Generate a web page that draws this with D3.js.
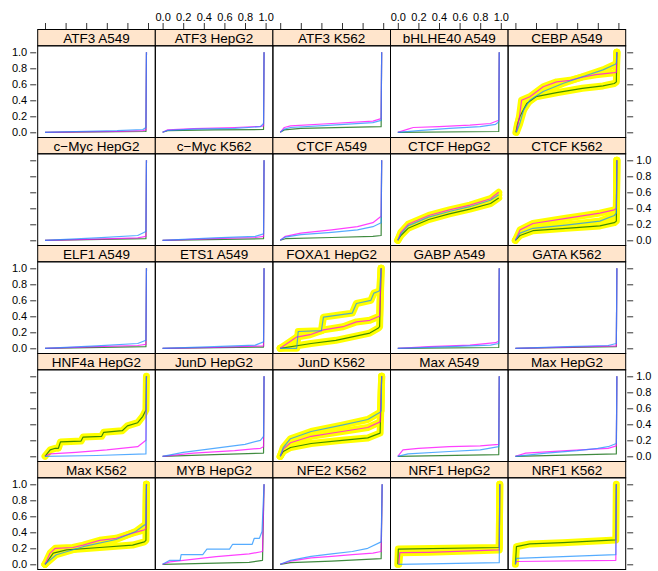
<!DOCTYPE html>
<html><head><meta charset="utf-8">
<script src="https://cdn.jsdelivr.net/npm/d3@7"></script>
<style>body{margin:0;background:#fff}svg{display:block}</style>
</head><body>
<script>
const panelNames = ["ATF3 A549","ATF3 HepG2","ATF3 K562","bHLHE40 A549","CEBP A549",
"c\u2212Myc HepG2","c\u2212Myc K562","CTCF A549","CTCF HepG2","CTCF K562",
"ELF1 A549","ETS1 A549","FOXA1 HepG2","GABP A549","GATA K562",
"HNF4a HepG2","JunD HepG2","JunD K562","Max A549","Max HepG2",
"Max K562","MYB HepG2","NFE2 K562","NRF1 HepG2","NRF1 K562"];

const ticks = [0,0.2,0.4,0.6,0.8,1.0];

// highlighted series per panel: [magenta, blue, green]
const highlighted = [
[0,0,0],[0,0,0],[0,0,0],[0,0,0],[1,1,1],
[0,0,0],[0,0,0],[0,0,0],[1,1,1],[1,1,1],
[0,0,0],[0,0,0],[1,1,1],[0,0,0],[0,0,0],
[0,0,1],[0,0,0],[1,1,1],[0,0,0],[0,0,0],
[1,1,1],[0,0,0],[0,0,0],[1,0,1],[0,0,1]];

const magentaSeries = [
[[0,0],[0.3,0.005],[0.7,0.01],[0.95,0.02],[0.98,0.03],[0.985,1]],
[[0,0],[0.05,0.03],[0.3,0.045],[0.7,0.06],[0.95,0.075],[0.98,0.08],[0.985,1]],
[[0,0],[0.04,0.06],[0.1,0.08],[0.5,0.11],[0.9,0.14],[0.98,0.17],[0.985,1]],
[[0,0],[0.1,0.04],[0.15,0.06],[0.4,0.07],[0.7,0.09],[0.9,0.11],[0.98,0.15],[0.985,1]],
[[0.01,0.01],[0.04,0.2],[0.06,0.40],[0.14,0.445],[0.27,0.57],[0.40,0.63],[0.53,0.65],[0.65,0.69],[0.78,0.72],[0.96,0.745],[0.98,0.75],[0.985,1]],
[[0,0],[0.5,0.015],[0.9,0.03],[0.98,0.05],[0.985,1]],
[[0,0],[0.5,0.02],[0.9,0.035],[0.98,0.05],[0.985,1]],
[[0,0],[0.05,0.05],[0.2,0.09],[0.5,0.13],[0.75,0.17],[0.9,0.22],[0.98,0.3],[0.985,1]],
[[0,0],[0.03,0.1],[0.1,0.2],[0.3,0.31],[0.5,0.38],[0.7,0.44],[0.9,0.52],[0.98,0.6]],
[[0,0],[0.045,0.13],[0.17,0.21],[0.49,0.275],[0.82,0.34],[0.96,0.38],[0.98,0.4],[0.985,1]],
[[0,0],[0.5,0.02],[0.9,0.035],[0.98,0.05],[0.985,1]],
[[0,0],[0.5,0.01],[0.98,0.03],[0.985,1]],
[[0,0],[0.16,0.14],[0.29,0.17],[0.42,0.23],[0.61,0.27],[0.74,0.33],[0.87,0.35],[0.95,0.395],[0.965,0.4],[0.98,1]],
[[0,0],[0.3,0.02],[0.7,0.04],[0.95,0.07],[0.98,0.09],[0.985,1]],
[[0,0],[0.5,0.015],[0.98,0.03],[0.985,1]],
[[0,0],[0.05,0.03],[0.3,0.05],[0.6,0.08],[0.9,0.12],[0.98,0.2],[0.985,1]],
[[0,0],[0.3,0.04],[0.7,0.07],[0.95,0.1],[0.98,0.12],[0.985,1]],
[[0,0],[0.03,0.09],[0.1,0.17],[0.3,0.25],[0.6,0.31],[0.85,0.36],[0.97,0.43],[0.985,1]],
[[0,0],[0.05,0.08],[0.2,0.1],[0.5,0.12],[0.8,0.13],[0.98,0.15],[0.985,1]],
[[0,0],[0.1,0.04],[0.5,0.07],[0.9,0.1],[0.98,0.13],[0.985,1]],
[[0,0],[0.05,0.14],[0.1,0.2],[0.27,0.21],[0.37,0.24],[0.53,0.30],[0.69,0.325],[0.85,0.39],[0.965,0.43],[0.98,0.45],[0.985,1]],
[[0,0],[0.07,0.03],[0.2,0.05],[0.52,0.095],[0.84,0.13],[0.97,0.16],[0.985,1]],
[[0,0],[0.1,0.04],[0.3,0.08],[0.5,0.1],[0.7,0.12],[0.9,0.14],[0.98,0.16],[0.99,1]],
[[0.01,0],[0.02,0.145],[0.3,0.15],[0.985,0.18],[0.99,1]],
[[0,0],[0.01,0.035],[0.975,0.05],[0.98,1]]
];

const blueSeries = [
[[0,0],[0.3,0.01],[0.7,0.02],[0.95,0.035],[0.98,0.06],[0.985,1]],
[[0,0],[0.05,0.025],[0.3,0.04],[0.7,0.05],[0.95,0.07],[0.98,0.11],[0.985,1]],
[[0,0],[0.04,0.04],[0.1,0.06],[0.5,0.09],[0.9,0.12],[0.98,0.15],[0.985,1]],
[[0,0],[0.2,0.02],[0.5,0.05],[0.8,0.07],[0.95,0.1],[0.98,0.13],[0.985,1]],
[[0.01,0],[0.04,0.1],[0.08,0.28],[0.14,0.40],[0.27,0.51],[0.46,0.61],[0.65,0.695],[0.85,0.78],[0.97,0.85],[0.98,0.87],[0.985,1]],
[[0,0],[0.5,0.03],[0.9,0.06],[0.98,0.11],[0.985,1]],
[[0,0],[0.5,0.03],[0.9,0.05],[0.98,0.08],[0.985,1]],
[[0,0],[0.05,0.04],[0.2,0.07],[0.5,0.1],[0.75,0.13],[0.9,0.17],[0.98,0.22],[0.985,1]],
[[0,0],[0.03,0.08],[0.1,0.18],[0.3,0.29],[0.5,0.36],[0.7,0.42],[0.9,0.5],[0.98,0.57]],
[[0,0],[0.045,0.09],[0.17,0.15],[0.49,0.19],[0.82,0.24],[0.96,0.31],[0.98,0.34],[0.985,1]],
[[0,0],[0.5,0.03],[0.9,0.06],[0.98,0.1],[0.985,1]],
[[0,0],[0.5,0.02],[0.9,0.04],[0.98,0.08],[0.985,1]],
[[0,0],[0.16,0],[0.175,0.21],[0.4,0.22],[0.42,0.39],[0.70,0.44],[0.74,0.56],[0.88,0.60],[0.91,0.69],[0.95,0.71],[0.965,0.72],[0.98,1]],
[[0,0],[0.5,0.02],[0.9,0.04],[0.98,0.06],[0.985,1]],
[[0,0],[0.5,0.02],[0.9,0.035],[0.98,0.06],[0.985,1]],
[[0,0],[0.5,0.01],[0.98,0.03],[0.985,1]],
[[0,0],[0.2,0.05],[0.5,0.1],[0.8,0.15],[0.95,0.2],[0.98,0.25],[0.985,1]],
[[0,0],[0.03,0.11],[0.1,0.22],[0.3,0.31],[0.6,0.39],[0.85,0.46],[0.97,0.55],[0.98,0.57],[0.985,1]],
[[0,0],[0.1,0.03],[0.5,0.06],[0.8,0.08],[0.98,0.12],[0.985,1]],
[[0,0],[0.3,0.04],[0.6,0.07],[0.8,0.1],[0.9,0.12],[0.98,0.16],[0.985,1]],
[[0,0],[0.11,0.12],[0.37,0.22],[0.69,0.31],[0.88,0.41],[0.965,0.49],[0.98,0.5],[0.985,1]],
[[0,0],[0.07,0.05],[0.17,0.05],[0.18,0.12],[0.39,0.12],[0.43,0.19],[0.65,0.19],[0.68,0.25],[0.87,0.25],[0.89,0.325],[0.94,0.325],[0.965,0.41],[0.985,1]],
[[0,0],[0.1,0.05],[0.3,0.1],[0.5,0.13],[0.7,0.16],[0.85,0.2],[0.98,0.28],[0.99,1]],
[[0.005,0],[0.3,0.005],[0.985,0.02],[0.99,1]],
[[0,0],[0.01,0.075],[0.975,0.12],[0.98,1]]
];

const greenSeries = [
[[0,0],[0.5,0.005],[0.98,0.01],[0.985,1]],
[[0,0],[0.05,0.02],[0.5,0.03],[0.98,0.035],[0.985,1]],
[[0,0],[0.04,0.03],[0.2,0.05],[0.98,0.07],[0.985,1]],
[[0,0],[0.98,0.01],[0.985,1]],
[[0.005,0],[0.02,0.1],[0.045,0.2],[0.11,0.36],[0.2,0.445],[0.4,0.495],[0.65,0.55],[0.85,0.58],[0.96,0.61],[0.98,0.63],[0.985,1]],
[[0,0],[0.98,0.02],[0.985,1]],
[[0,0],[0.98,0.02],[0.985,1]],
[[0,0],[0.05,0.02],[0.5,0.035],[0.9,0.05],[0.98,0.06],[0.985,1]],
[[0,0],[0.03,0.06],[0.1,0.15],[0.3,0.26],[0.5,0.33],[0.7,0.39],[0.9,0.46],[0.98,0.53]],
[[0,0],[0.045,0.06],[0.17,0.12],[0.49,0.15],[0.82,0.18],[0.96,0.22],[0.98,0.24],[0.985,1]],
[[0,0],[0.98,0.02],[0.985,1]],
[[0,0],[0.98,0.015],[0.985,1]],
[[0,0],[0.3,0.06],[0.54,0.10],[0.87,0.19],[0.95,0.25],[0.965,0.27],[0.98,1]],
[[0,0],[0.98,0.01],[0.985,1]],
[[0,0],[0.98,0.02],[0.985,1]],
[[0,0],[0.05,0.08],[0.1,0.1],[0.13,0.1],[0.15,0.18],[0.35,0.19],[0.37,0.24],[0.55,0.25],[0.57,0.3],[0.75,0.32],[0.8,0.38],[0.9,0.42],[0.95,0.5],[0.98,0.58],[0.985,1]],
[[0,0],[0.5,0.02],[0.98,0.04],[0.985,1]],
[[0,0],[0.03,0.06],[0.1,0.11],[0.3,0.16],[0.6,0.2],[0.85,0.23],[0.97,0.29],[0.985,1]],
[[0,0],[0.98,0.02],[0.985,1]],
[[0,0],[0.98,0.03],[0.985,1]],
[[0,0],[0.02,0.03],[0.08,0.14],[0.21,0.18],[0.53,0.21],[0.85,0.24],[0.965,0.28],[0.98,0.3],[0.985,1]],
[[0,0],[0.84,0.025],[0.97,0.05],[0.985,1]],
[[0,0],[0.1,0.02],[0.5,0.04],[0.98,0.07],[0.99,1]],
[[0,0],[0.005,0.19],[0.985,0.21],[0.99,1]],
[[0,0],[0.01,0.22],[0.14,0.255],[0.46,0.27],[0.975,0.305],[0.98,1]]
];

const seriesColors = ["#ff00ff","#1e90ff","#006400"];
const drawOrder = [2, 0, 1];

const W = 658, H = 571;
const nCol = 5, nRow = 5;
const gridLeft = 37.7, panelW = 117.6, gridTop = 29.5, rowH = 108, stripH = 16.3;
const padX = 7.3, padTop = 6.5, padBot = 5.2;

const svg = d3.select("body").append("svg").attr("width", W).attr("height", H);
const font = "'Liberation Sans', Arial, Helvetica, sans-serif";

const allSeries = [magentaSeries, blueSeries, greenSeries];

panelNames.forEach((name, i) => {
  const r = Math.floor(i / nCol), c = i % nCol;
  const px = gridLeft + c * panelW;
  const sy = gridTop + r * rowH;
  const py = sy + stripH;
  const ph = rowH - stripH;
  const x = d3.scaleLinear().domain([0, 1]).range([px + padX, px + panelW - padX]);
  const y = d3.scaleLinear().domain([0, 1]).range([py + ph - padBot, py + padTop]);
  const g = svg.append("g");

  g.append("rect").attr("x", px).attr("y", sy).attr("width", panelW).attr("height", stripH)
    .attr("fill", "#ffe5cc").attr("stroke", "#000").attr("stroke-width", 1);
  g.append("text").attr("x", px + panelW / 2).attr("y", sy + stripH - 3.2)
    .attr("text-anchor", "middle").attr("font-family", font).attr("font-size", "13.5px")
    .attr("fill", "#000").text(name);

  const clipId = "clip" + i;
  svg.append("clipPath").attr("id", clipId).append("rect")
    .attr("x", px).attr("y", py).attr("width", panelW).attr("height", ph);

  const line = d3.line().x(d => x(d[0])).y(d => y(d[1]));
  const lg = g.append("g").attr("clip-path", `url(#${clipId})`);
  drawOrder.forEach(k => {
    if (highlighted[i][k]) {
      lg.append("path").attr("d", line(allSeries[k][i])).attr("fill", "none")
        .attr("stroke", "#ffff00").attr("stroke-width", 7)
        .attr("stroke-linejoin", "round").attr("stroke-linecap", "round");
    }
  });
  drawOrder.forEach(k => {
    lg.append("path").attr("d", line(allSeries[k][i])).attr("fill", "none")
      .attr("stroke", seriesColors[k]).attr("stroke-width", 1.2)
      .attr("stroke-opacity", 0.75).attr("stroke-linejoin", "round");
  });

  g.append("rect").attr("x", px).attr("y", py).attr("width", panelW).attr("height", ph)
    .attr("fill", "none").attr("stroke", "#000").attr("stroke-width", 1);

  if (c === 0) {
    const ax = d3.axisLeft(y).tickValues(ticks).tickSize(6).tickPadding(3)
      .tickFormat(r % 2 === 0 ? d3.format(".1f") : () => "");
    const a = svg.append("g").attr("transform", `translate(${px - 1.5},0)`).call(ax);
    a.select(".domain").remove();
  }
  if (c === nCol - 1) {
    const ax = d3.axisRight(y).tickValues(ticks).tickSize(6).tickPadding(3)
      .tickFormat(r % 2 === 1 ? d3.format(".1f") : () => "");
    const a = svg.append("g").attr("transform", `translate(${px + panelW + 1.5},0)`).call(ax);
    a.select(".domain").remove();
  }
  if (r === 0) {
    const ax = d3.axisTop(x).tickValues(ticks).tickSize(6).tickPadding(2)
      .tickFormat(c % 2 === 1 ? d3.format(".1f") : () => "");
    const a = svg.append("g").attr("transform", `translate(0,${sy - 0.5})`).call(ax);
    a.select(".domain").remove();
  }
});

svg.selectAll(".tick text").attr("font-family", font).attr("font-size", "11px").attr("fill", "#000");
svg.selectAll(".tick line").attr("stroke", "#333");
</script>
</body></html>
